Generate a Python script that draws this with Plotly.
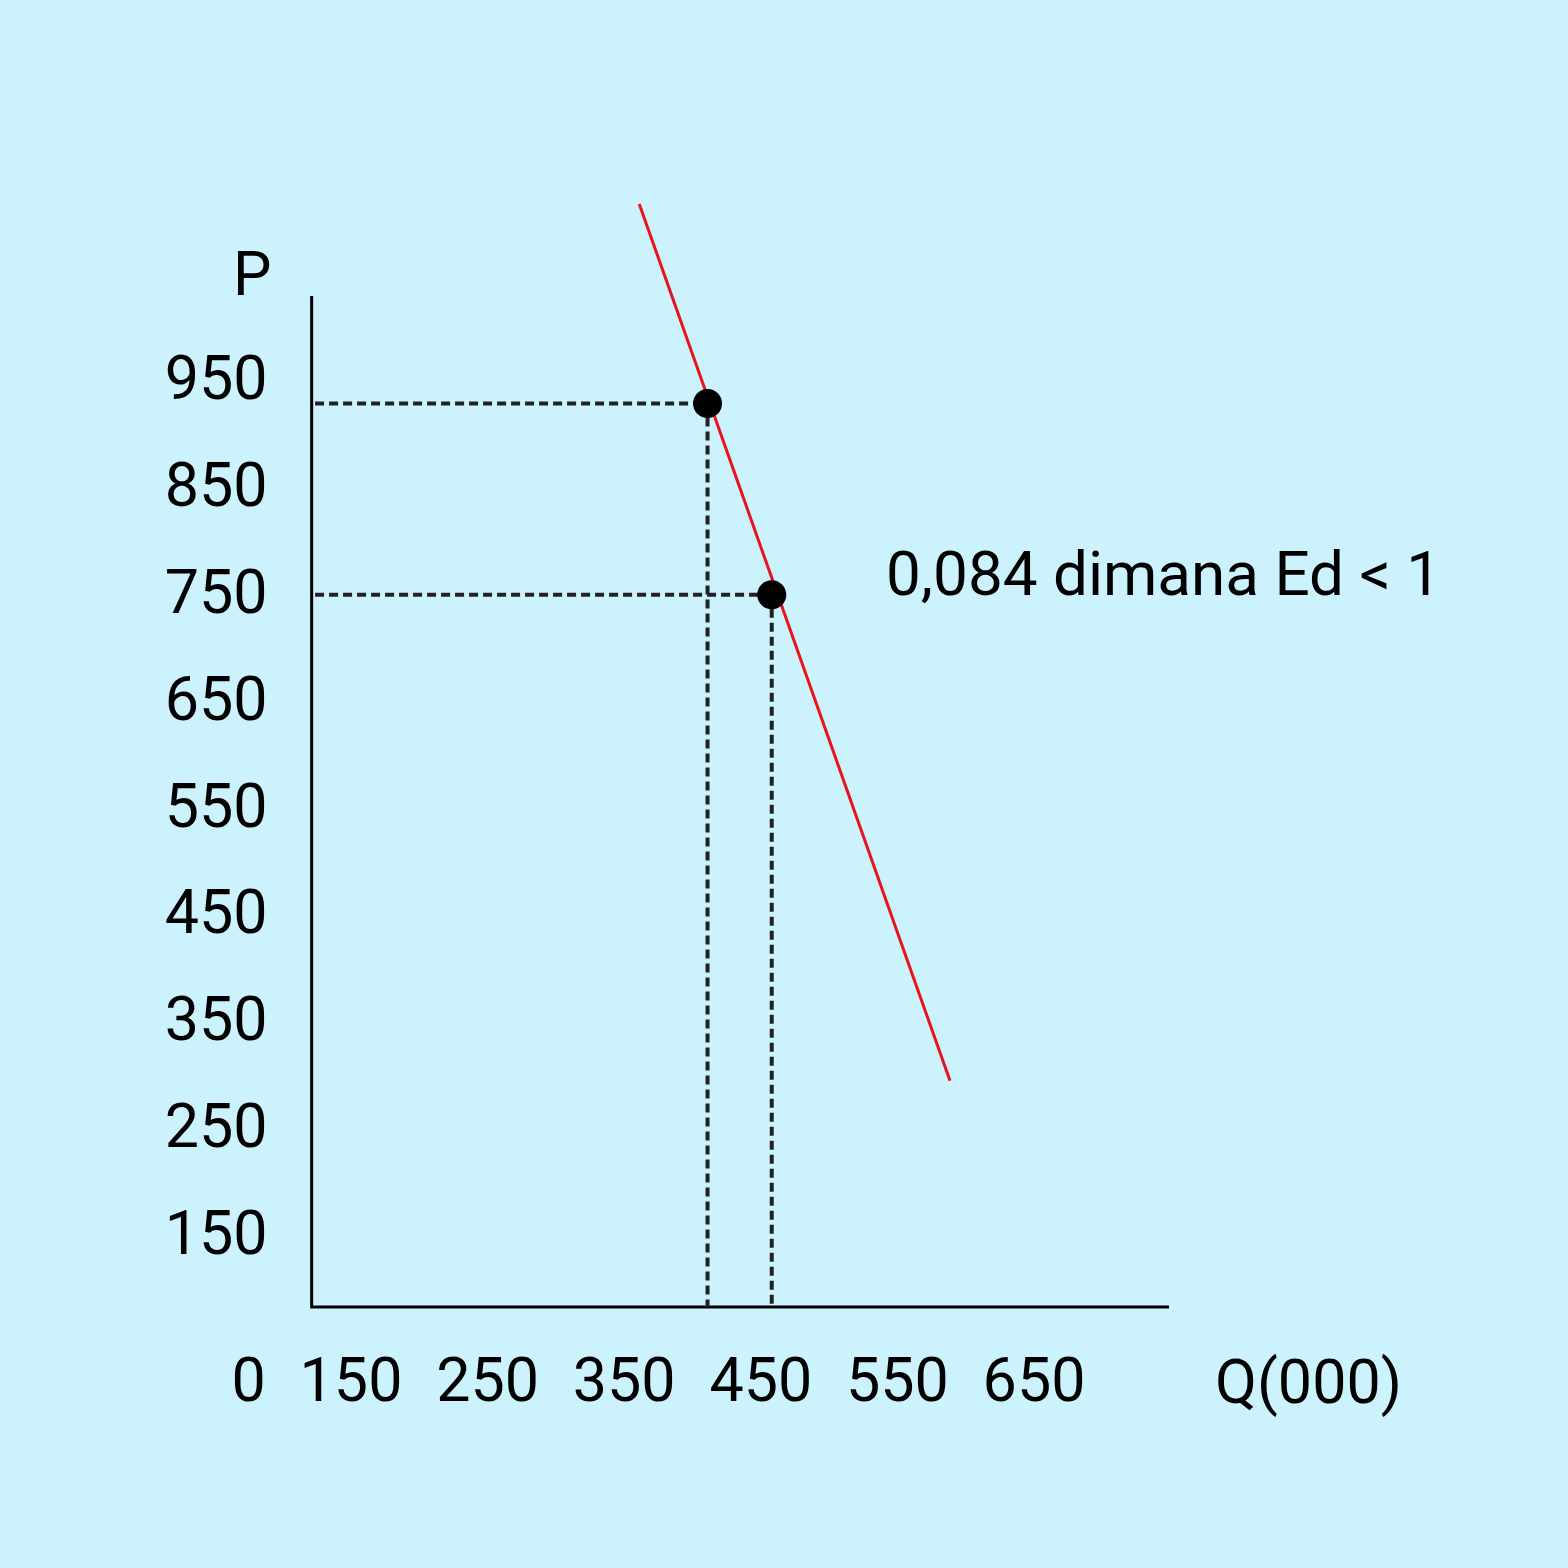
import plotly.graph_objects as go

# ---- data ----
x_tick_vals = [75, 150, 250, 350, 450, 550, 650]
x_tick_text = ["0", "150", "250", "350", "450", "550", "650"]
y_tick_vals = [150, 250, 350, 450, 550, 650, 750, 850, 950]
y_tick_text = [str(v) for v in y_tick_vals]

demand_q = [361, 588.5]
demand_p = [1113, 292]

points_q = [411, 458]
points_p = [926, 747]

axis_q0, axis_p0 = 121.2, 80.1     # origin of the drawn axes
axis_q1, axis_p1 = 748.8, 1026.8   # ends of the drawn axes

annotation_text = "0,084 dimana Ed &lt; 1"

# ---- styling ----
BG = "#CCF2FD"
FONT = "Roboto"
FS = 61
DASH_COLOR = "#222222"

fig = go.Figure()

# axes lines
fig.add_trace(go.Scatter(x=[axis_q0, axis_q0, axis_q1], y=[axis_p1, axis_p0, axis_p0],
                         mode="lines", line=dict(color="black", width=3),
                         hoverinfo="skip", showlegend=False))

# dashed guide lines
for q, p in zip(points_q, points_p):
    fig.add_trace(go.Scatter(x=[axis_q0 + 2.5, q], y=[p, p], mode="lines",
                             line=dict(color=DASH_COLOR, width=4, dash="9px,5px"),
                             hoverinfo="skip", showlegend=False))
    fig.add_trace(go.Scatter(x=[q, q], y=[p, axis_p0], mode="lines",
                             line=dict(color=DASH_COLOR, width=4, dash="9px,5px"),
                             hoverinfo="skip", showlegend=False))

# demand curve
fig.add_trace(go.Scatter(x=demand_q, y=demand_p, mode="lines",
                         line=dict(color="#E8141B", width=3),
                         showlegend=False))

# points
fig.add_trace(go.Scatter(x=points_q, y=points_p, mode="markers",
                         marker=dict(color="black", size=29),
                         showlegend=False))

fig.add_annotation(x=77.5, y=1047, text="P", showarrow=False,
                   xanchor="center", yanchor="middle",
                   font=dict(family=FONT, size=FS, color="black"))
fig.add_annotation(x=851, y=10, text="Q(000)", showarrow=False,
                   xanchor="center", yanchor="middle",
                   font=dict(family=FONT, size=FS, color="black"))
fig.add_annotation(x=540, y=767, text=annotation_text, showarrow=False,
                   xanchor="left", yanchor="middle",
                   font=dict(family=FONT, size=62, color="black"))

fig.update_layout(
    width=1568, height=1568,
    margin=dict(l=0, r=0, t=0, b=0),
    paper_bgcolor=BG, plot_bgcolor=BG,
    showlegend=False,
    xaxis=dict(range=[-106.95, 1040.9], domain=[0, 1], anchor="free",
               position=1 - 1307 / 1568,
               tickvals=x_tick_vals, ticktext=x_tick_text,
               ticks="outside", ticklen=20, tickcolor="rgba(0,0,0,0)",
               showgrid=False, zeroline=False, showline=False,
               tickfont=dict(family=FONT, size=FS, color="black"),
               fixedrange=True),
    yaxis=dict(range=[-164.2, 1303.9], domain=[0, 1], anchor="free",
               position=311.7 / 1568,
               tickvals=y_tick_vals, ticktext=y_tick_text,
               ticks="outside", ticklen=32, tickcolor="rgba(0,0,0,0)",
               showgrid=False, zeroline=False, showline=False,
               tickfont=dict(family=FONT, size=FS, color="black"),
               fixedrange=True),
)

fig.write_html("out.html", config={"displayModeBar": False},
               post_script="document.body.style.margin='0';document.body.style.background='" + BG + "';")
